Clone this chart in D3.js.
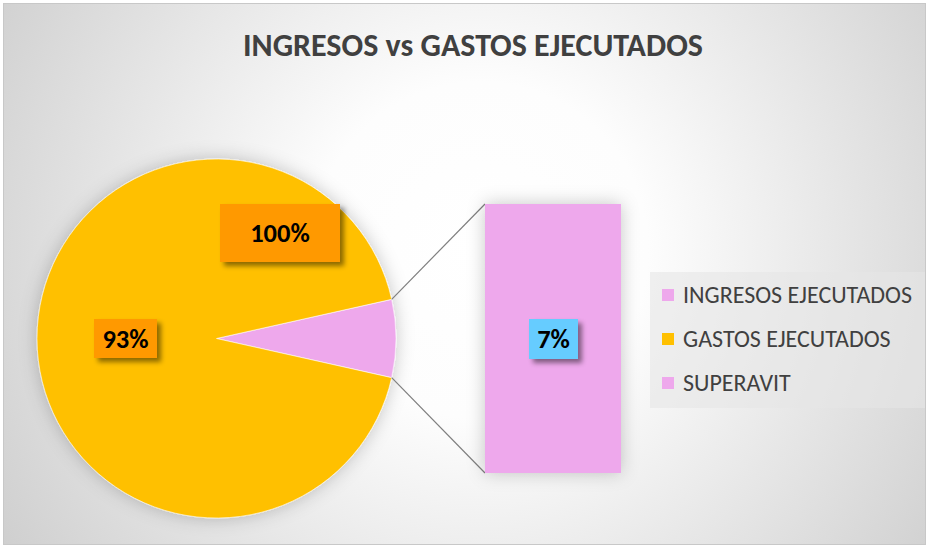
<!DOCTYPE html>
<html>
<head>
<meta charset="utf-8">
<script src="https://cdn.jsdelivr.net/npm/d3@7"></script>
<style>
	body { margin: 0; background: #fff; }
	svg { display: block; }
</style>
</head>
<body>
<div class="chart"></div>
<script>
// data
var pieNames = ["SUPERAVIT", "GASTOS EJECUTADOS"],
	pieValues = [7, 93],
	pieColors = ["#EEA8EC", "#FFC000"];

var barNames = ["SUPERAVIT"],
	barValues = [7];

var legendNames = ["INGRESOS EJECUTADOS", "GASTOS EJECUTADOS", "SUPERAVIT"],
	legendColors = ["#EEA8EC", "#FFC000", "#EEA8EC"];

var labelTexts = ["100%", "93%", "7%"],
	labelColors = ["#FF9900", "#FF9900", "#66CCFF"];

var title = "INGRESOS vs GASTOS EJECUTADOS";

var width = 929, height = 548;
var font = "Carlito, Calibri, Lato, 'Liberation Sans', sans-serif";

var svg = d3.select(".chart").append("svg")
	.attr("width", width)
	.attr("height", height);

var defs = svg.append("defs");

var grad = defs.append("radialGradient")
	.attr("id", "bg")
	.attr("gradientUnits", "userSpaceOnUse")
	.attr("cx", 480).attr("cy", 250).attr("r", 560);
grad.append("stop").attr("offset", "0").attr("stop-color", "#ffffff");
grad.append("stop").attr("offset", "0.3").attr("stop-color", "#fdfdfd");
grad.append("stop").attr("offset", "1").attr("stop-color", "#cfcfcf");

var glow = defs.append("filter").attr("id", "glow")
	.attr("x", "-20%").attr("y", "-20%").attr("width", "140%").attr("height", "140%");
glow.append("feGaussianBlur").attr("in", "SourceAlpha").attr("stdDeviation", 9).attr("result", "b");
glow.append("feFlood").attr("flood-color", "#000").attr("flood-opacity", 0.22);
glow.append("feComposite").attr("in2", "b").attr("operator", "in").attr("result", "s");
var gm = glow.append("feMerge");
gm.append("feMergeNode").attr("in", "s");
gm.append("feMergeNode").attr("in", "SourceGraphic");

var drop = defs.append("filter").attr("id", "drop")
	.attr("x", "-30%").attr("y", "-30%").attr("width", "160%").attr("height", "160%");
drop.append("feDropShadow")
	.attr("dx", 4).attr("dy", 4).attr("stdDeviation", 2.5)
	.attr("flood-color", "#000").attr("flood-opacity", 0.45);

// background and frame
svg.append("rect")
	.attr("x", 3.5).attr("y", 3.5)
	.attr("width", 922).attr("height", 541)
	.attr("fill", "url(#bg)")
	.attr("stroke", "#c8c8c8")
	.attr("stroke-width", 1);

svg.append("text")
	.attr("x", 473).attr("y", 56)
	.attr("text-anchor", "middle")
	.attr("font-family", font)
	.attr("font-weight", "bold")
	.attr("font-size", 32)
	.attr("fill", "#404040")
	.text(title);

// pie
var cx = 216.5, cy = 338.5, r = 179.5;
var share = pieValues[0] / d3.sum(pieValues);
var start = Math.PI / 2 - share * Math.PI;

var pie = d3.pie().sort(null)
	.startAngle(start)
	.endAngle(start + 2 * Math.PI);
var arcs = pie(pieValues);
var arc = d3.arc().innerRadius(0).outerRadius(r);

var pg = svg.append("g")
	.attr("transform", "translate(" + cx + "," + cy + ")")
	.attr("filter", "url(#glow)");

pg.selectAll("path")
	.data(arcs)
	.enter().append("path")
	.attr("d", arc)
	.attr("fill", function(d, i) { return pieColors[i]; })
	.attr("stroke", "#fff")
	.attr("stroke-width", 0.6);

// bar of the split slice
var barX = 485, barW = 136;
var yscale = d3.scaleLinear()
	.domain([0, d3.sum(barValues)])
	.range([473, 204]);

// connector lines from slice edges to bar corners
var edgeTop = [cx + r * Math.sin(arcs[0].startAngle), cy - r * Math.cos(arcs[0].startAngle)],
	edgeBot = [cx + r * Math.sin(arcs[0].endAngle), cy - r * Math.cos(arcs[0].endAngle)];

svg.append("line")
	.attr("x1", edgeTop[0]).attr("y1", edgeTop[1])
	.attr("x2", barX).attr("y2", yscale(d3.sum(barValues)))
	.attr("stroke", "#7f7f7f").attr("stroke-width", 1.2);
svg.append("line")
	.attr("x1", edgeBot[0]).attr("y1", edgeBot[1])
	.attr("x2", barX).attr("y2", yscale(0))
	.attr("stroke", "#7f7f7f").attr("stroke-width", 1.2);

var stack = d3.cumsum(barValues);
svg.append("g").attr("filter", "url(#glow)")
	.selectAll("rect")
	.data(barValues)
	.enter().append("rect")
	.attr("x", barX)
	.attr("y", function(d, i) { return yscale(stack[i]); })
	.attr("width", barW)
	.attr("height", function(d, i) { return yscale(stack[i] - d) - yscale(stack[i]); })
	.attr("fill", pieColors[0]);

// data labels
var labelPos = [
	{x: 280, y: 233, w: 120, h: 58},
	{x: 125.5, y: 338.5, w: 63, h: 39},
	{x: 553.5, y: 339, w: 49, h: 40}
];

var lg = svg.selectAll(".lab")
	.data(labelTexts)
	.enter().append("g")
	.attr("class", "lab")
	.attr("transform", function(d, i) { return "translate(" + labelPos[i].x + "," + labelPos[i].y + ")"; });

lg.append("rect")
	.attr("x", function(d, i) { return -labelPos[i].w / 2; })
	.attr("y", function(d, i) { return -labelPos[i].h / 2; })
	.attr("width", function(d, i) { return labelPos[i].w; })
	.attr("height", function(d, i) { return labelPos[i].h; })
	.attr("fill", function(d, i) { return labelColors[i]; })
	.attr("filter", "url(#drop)");

lg.append("text")
	.attr("text-anchor", "middle")
	.attr("dy", "0.35em")
	.attr("font-family", font)
	.attr("font-weight", "bold")
	.attr("font-size", 26.5)
	.attr("fill", "#000")
	.text(function(d) { return d; });

// legend
var leg = svg.append("g").attr("transform", "translate(650,272)");
leg.append("rect")
	.attr("width", 275).attr("height", 136)
	.attr("fill", "#e6e6e6").attr("fill-opacity", 0.6);

var items = leg.selectAll(".item")
	.data(legendNames)
	.enter().append("g")
	.attr("class", "item")
	.attr("transform", function(d, i) { return "translate(0," + (23 + i * 44) + ")"; });

items.append("rect")
	.attr("x", 12).attr("y", -6)
	.attr("width", 12).attr("height", 12)
	.attr("fill", function(d, i) { return legendColors[i]; });

items.append("text")
	.attr("x", 33)
	.attr("dy", "0.35em")
	.attr("font-family", font)
	.attr("font-size", 24)
	.attr("fill", "#404040")
	.text(function(d) { return d; });
</script>
</body>
</html>
